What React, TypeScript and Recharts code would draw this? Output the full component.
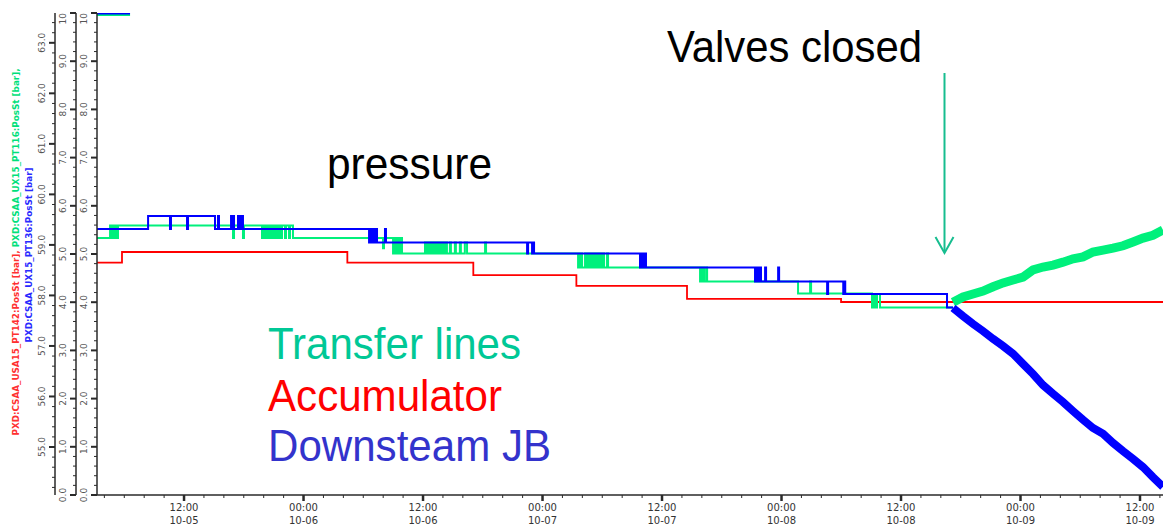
import React from "react";
import { LineChart, Line, XAxis, YAxis } from "recharts";

// time axis is hours since 10-05 00:00
const T_START = 3.26;
const T_END = 110.31;

// [hours, bar] step points
const blueSteps = [
  [3.26, 5.52], [8.39, 5.79], [10.59, 5.52], [10.69, 5.79], [12.3, 5.52], [12.4, 5.79],
  [15.11, 5.52], [15.41, 5.79], [15.51, 5.52],
  [16.72, 5.79], [16.82, 5.52], [16.92, 5.79], [17.02, 5.52],
  [17.42, 5.79], [17.52, 5.52], [17.62, 5.79], [17.72, 5.52], [17.82, 5.79], [17.92, 5.52],
  [30.58, 5.24], [30.68, 5.52], [30.78, 5.24], [30.88, 5.52], [30.98, 5.24], [31.08, 5.52],
  [31.18, 5.24], [31.28, 5.52], [31.38, 5.24], [32.18, 5.52], [32.28, 5.24],
  [46.45, 5.01], [46.55, 5.24], [46.95, 5.01], [47.05, 5.24], [47.15, 5.01],
  [57.79, 4.72], [57.89, 5.01], [57.99, 4.72], [58.09, 5.01], [58.19, 4.72], [58.29, 5.01], [58.39, 4.72],
  [69.34, 4.43], [69.44, 4.72], [69.54, 4.43], [69.64, 4.72], [69.74, 4.43], [69.84, 4.72], [69.94, 4.43],
  [70.35, 4.72], [70.45, 4.43], [71.66, 4.72], [71.76, 4.43], [76.58, 4.17], [76.68, 4.43],
  [78.2, 4.17], [78.3, 4.43], [78.4, 4.17], [88.62, 3.89], [89.22, 3.89],
];

const blueTail = [
  [89.22, 3.88], [90.23, 3.71], [91.23, 3.55], [92.24, 3.4], [93.24, 3.24], [94.25, 3.09],
  [95.25, 2.93], [96.25, 2.72], [97.26, 2.51], [98.26, 2.28], [99.27, 2.1], [100.27, 1.93],
  [101.28, 1.74], [102.28, 1.56], [103.28, 1.39], [104.29, 1.27], [105.29, 1.08], [106.3, 0.91],
  [107.3, 0.75], [108.3, 0.58], [109.3, 0.37], [110.31, 0.17],
];

const greenSteps = [
  [3.26, 5.33], [4.57, 5.59], [4.67, 5.33], [4.77, 5.59], [4.87, 5.33], [4.97, 5.59],
  [5.07, 5.33], [5.17, 5.59], [5.27, 5.33], [5.37, 5.59],
  [16.92, 5.33], [17.02, 5.59], [17.92, 5.33], [18.02, 5.59],
  [19.83, 5.33], [19.93, 5.59], [20.03, 5.33], [20.13, 5.59], [20.23, 5.33], [20.33, 5.59], [20.43, 5.33],
  [20.63, 5.59], [20.73, 5.33], [20.83, 5.59], [20.93, 5.33], [21.03, 5.59], [21.13, 5.33],
  [21.23, 5.59], [21.33, 5.33], [21.43, 5.59], [21.53, 5.33], [21.63, 5.59], [21.73, 5.33], [21.84, 5.59],
  [22.14, 5.33], [22.24, 5.59], [22.54, 5.33], [22.64, 5.59], [22.94, 5.33],
  [31.98, 5.12], [32.08, 5.33],
  [32.99, 5.01], [33.09, 5.33], [33.19, 5.01], [33.29, 5.33], [33.39, 5.01], [33.49, 5.33], [33.59, 5.01],
  [33.69, 5.33], [33.89, 5.01],
  [36.2, 5.24], [36.3, 5.01], [36.4, 5.24], [36.5, 5.01],
  [36.7, 5.24], [36.8, 5.01], [36.9, 5.24], [37.0, 5.01], [37.1, 5.24], [37.2, 5.01], [37.3, 5.24],
  [37.4, 5.01], [37.5, 5.24], [37.6, 5.01], [37.7, 5.24], [37.8, 5.01], [37.9, 5.24], [38.0, 5.01],
  [38.1, 5.24], [38.2, 5.01], [38.3, 5.24], [38.4, 5.01],
  [38.7, 5.24], [38.8, 5.01], [39.2, 5.24], [39.3, 5.01], [39.7, 5.24], [39.8, 5.01],
  [40.2, 5.24], [40.42, 5.01], [42.23, 5.24], [42.33, 5.01],
  [51.57, 4.72], [51.67, 5.01], [51.77, 4.72], [51.87, 5.01], [51.97, 4.72],
  [52.27, 5.01], [52.37, 4.72], [52.47, 5.01], [52.57, 4.72], [52.67, 5.01], [52.77, 4.72],
  [52.87, 5.01], [52.97, 4.72], [53.07, 5.01], [53.17, 4.72],
  [53.27, 5.01], [53.37, 4.72], [53.47, 5.01], [53.57, 4.72], [53.67, 5.01], [53.77, 4.72],
  [53.87, 5.01], [53.97, 4.72], [54.08, 5.01], [54.18, 4.72], [54.48, 5.01], [54.58, 4.72],
  [63.82, 4.43], [63.92, 4.72], [64.02, 4.43], [64.12, 4.72], [64.22, 4.43], [64.43, 4.72], [64.53, 4.43],
  [73.66, 4.18], [74.87, 4.43], [74.97, 4.18],
  [81.09, 3.89], [81.19, 4.17], [81.29, 3.89], [81.39, 4.17], [81.49, 3.89], [81.59, 4.17], [81.89, 3.89],
  [89.22, 3.89],
];

const greenTail = [
  [89.22, 4.0], [90.23, 4.11], [91.23, 4.17], [92.24, 4.23], [93.24, 4.32], [94.25, 4.4],
  [95.25, 4.46], [96.25, 4.52], [97.26, 4.67], [98.26, 4.73], [99.27, 4.77], [100.27, 4.83],
  [101.28, 4.9], [102.28, 4.94], [103.28, 5.04], [104.29, 5.08], [105.29, 5.12], [106.3, 5.17],
  [107.3, 5.25], [108.3, 5.33], [109.3, 5.39], [110.31, 5.5],
];

const redSteps = [
  [3.26, 58.65], [5.77, 58.86], [28.4, 58.65], [41.05, 58.4], [51.4, 58.19],
  [62.51, 57.93], [77.98, 57.87], [110.31, 57.87],
];

// off-scale bits at the top left
const blueTop = [[3.26, 9.99], [6.58, 9.99]];
const greenTop = [[3.26, 9.96], [6.58, 9.96]];

const xMajorTicks = [12, 24, 36, 48, 60, 72, 84, 96, 108];
const xTimeLabels = ["12:00", "00:00", "12:00", "00:00", "12:00", "00:00", "12:00", "00:00", "12:00"];
const xDateLabels = ["10-05", "10-06", "10-06", "10-07", "10-07", "10-08", "10-08", "10-09", "10-09"];

const barMajor = [0, 1, 2, 3, 4, 5, 6, 7, 8, 9, 10];
const accMajor = [55, 56, 57, 58, 59, 60, 61, 62, 63];

const xTicks: number[] = [];
for (let h = 4; h <= 110; h += 2) xTicks.push(h);
const barTicks: number[] = [];
for (let i = 0; i <= 50; i++) barTicks.push(+(i * 0.2).toFixed(1));
const accTicks: number[] = [];
for (let i = 0; i <= 46; i++) accTicks.push(+(54.2 + i * 0.2).toFixed(1));

const toRows = (pts: number[][]) => pts.map(([t, v]) => ({ t, v }));

const AXIS = "#2a2a2a";
const LABEL = "#555";
const FONT = "DejaVu Sans";

function XTick(props: any) {
  const { x, y, payload } = props;
  const idx = xMajorTicks.indexOf(payload.value);
  const major = idx >= 0;
  return (
    <g>
      <line x1={x} x2={x} y1={y} y2={y + (major ? 6 : 3)} stroke={AXIS} strokeWidth={major ? 2.5 : 1} />
      {major && (
        <text x={x} y={y + 16} textAnchor="middle" fontSize={10} fill="#333" fontFamily={FONT}>
          {xTimeLabels[idx]}
        </text>
      )}
      {major && (
        <text x={x} y={y + 29} textAnchor="middle" fontSize={10} fill="#333" fontFamily={FONT}>
          {xDateLabels[idx]}
        </text>
      )}
    </g>
  );
}

function makeYTick(majors: number[]) {
  return (props: any) => {
    const { x, y, payload } = props;
    const v = payload.value;
    const major = majors.some((m) => Math.abs(m - v) < 1e-6);
    const label = v === 10 ? "10" : v.toFixed(1);
    return (
      <g>
        <line x1={x} x2={x - (major ? 6 : 3)} y1={y} y2={y} stroke={AXIS} strokeWidth={major ? 2 : 1} />
        {major && (
          <text
            transform={`translate(${x - 10},${y}) rotate(-90)`}
            textAnchor={v === 10 ? "end" : "middle"}
            fontSize={9}
            fill={LABEL}
            fontFamily={FONT}
          >
            {label}
          </text>
        )}
      </g>
    );
  };
}

export default function App() {
  return (
    <div style={{ position: "absolute", left: 0, top: 0, width: 1163, height: 528, background: "#fff" }}>
      <LineChart width={1163} height={528} margin={{ top: 13, right: 0, bottom: 0, left: 0 }}>
        <XAxis
          dataKey="t"
          type="number"
          domain={[T_START, T_END]}
          allowDataOverflow
          ticks={xTicks}
          interval={0}
          tick={<XTick />}
          tickLine={false}
          tickSize={0}
          tickMargin={0}
          height={33}
          axisLine={{ stroke: AXIS, strokeWidth: 1.5 }}
        />
        <YAxis
          yAxisId="pt136"
          type="number"
          domain={[0, 10]}
          allowDataOverflow
          ticks={barTicks}
          interval={0}
          width={21}
          tick={makeYTick(barMajor)}
          tickLine={false}
          tickSize={0}
          tickMargin={0}
          axisLine={{ stroke: AXIS, strokeWidth: 1.5 }}
        />
        <YAxis
          yAxisId="pt116"
          type="number"
          domain={[0, 10]}
          allowDataOverflow
          ticks={barTicks}
          interval={0}
          width={21}
          tick={makeYTick(barMajor)}
          tickLine={false}
          tickSize={0}
          tickMargin={0}
          axisLine={{ stroke: AXIS, strokeWidth: 1.5 }}
        />
        <YAxis
          yAxisId="pt142"
          type="number"
          domain={[54.05, 63.59]}
          allowDataOverflow
          ticks={accTicks}
          interval={0}
          width={55}
          tick={makeYTick(accMajor)}
          tickLine={false}
          tickSize={0}
          tickMargin={0}
          axisLine={{ stroke: AXIS, strokeWidth: 1.5 }}
        />
        <Line yAxisId="pt142" data={toRows(redSteps)} dataKey="v" type="stepAfter" stroke="#ff0000" strokeWidth={1.8} dot={false} isAnimationActive={false} />
        <Line yAxisId="pt116" data={toRows(greenSteps)} dataKey="v" type="stepAfter" stroke="#00f07c" strokeWidth={2} dot={false} isAnimationActive={false} />
        <Line yAxisId="pt136" data={toRows(blueSteps)} dataKey="v" type="stepAfter" stroke="#0000ff" strokeWidth={2} dot={false} isAnimationActive={false} />
        <Line yAxisId="pt116" data={toRows(greenTail)} dataKey="v" type="linear" stroke="#00f07c" strokeWidth={9} dot={false} isAnimationActive={false} />
        <Line yAxisId="pt136" data={toRows(blueTail)} dataKey="v" type="linear" stroke="#0000ff" strokeWidth={8} dot={false} isAnimationActive={false} />
        <Line yAxisId="pt116" data={toRows(greenTop)} dataKey="v" type="linear" stroke="#00f07c" strokeWidth={2} dot={false} isAnimationActive={false} />
        <Line yAxisId="pt136" data={toRows(blueTop)} dataKey="v" type="linear" stroke="#0000ff" strokeWidth={2} dot={false} isAnimationActive={false} />
      </LineChart>
      <svg width={1163} height={528} style={{ position: "absolute", left: 0, top: 0, pointerEvents: "none" }}>
        <text transform="translate(19,252) rotate(-90)" textAnchor="middle" fontSize={9} fontWeight="bold" fontFamily={FONT} textLength={367} lengthAdjust="spacingAndGlyphs">
          <tspan fill="#ff3030">PXD:CSAA_USA15_PT142:PosSt [bar], </tspan>
          <tspan fill="#00e07a">PXD:CSAA_UX15_PT116:PosSt [bar],</tspan>
        </text>
        <text transform="translate(32,255) rotate(-90)" textAnchor="middle" fontSize={9} fontWeight="bold" fontFamily={FONT} fill="#2a2aff" textLength={175} lengthAdjust="spacingAndGlyphs">
          PXD:CSAA_UX15_PT136:PosSt [bar]
        </text>
        <g fontFamily="Liberation Sans" fontSize={44}>
          <text x={667} y={62} fill="#000" textLength={255} lengthAdjust="spacingAndGlyphs">Valves closed</text>
          <text x={327} y={179} fill="#000" textLength={165} lengthAdjust="spacingAndGlyphs">pressure</text>
          <text x={268} y={359} fill="#00c896" textLength={253} lengthAdjust="spacingAndGlyphs">Transfer lines</text>
          <text x={268} y={411} fill="#ff0000" textLength={234} lengthAdjust="spacingAndGlyphs">Accumulator</text>
          <text x={268} y={461} fill="#3333cc" textLength={283} lengthAdjust="spacingAndGlyphs">Downsteam JB</text>
        </g>
        <g stroke="#17bd8f" strokeWidth={2} fill="none">
          <line x1={944.5} y1={73} x2={944.5} y2={252} />
          <polyline points="935.5,237 944.5,253 953.5,237" />
        </g>
      </svg>
    </div>
  );
}
